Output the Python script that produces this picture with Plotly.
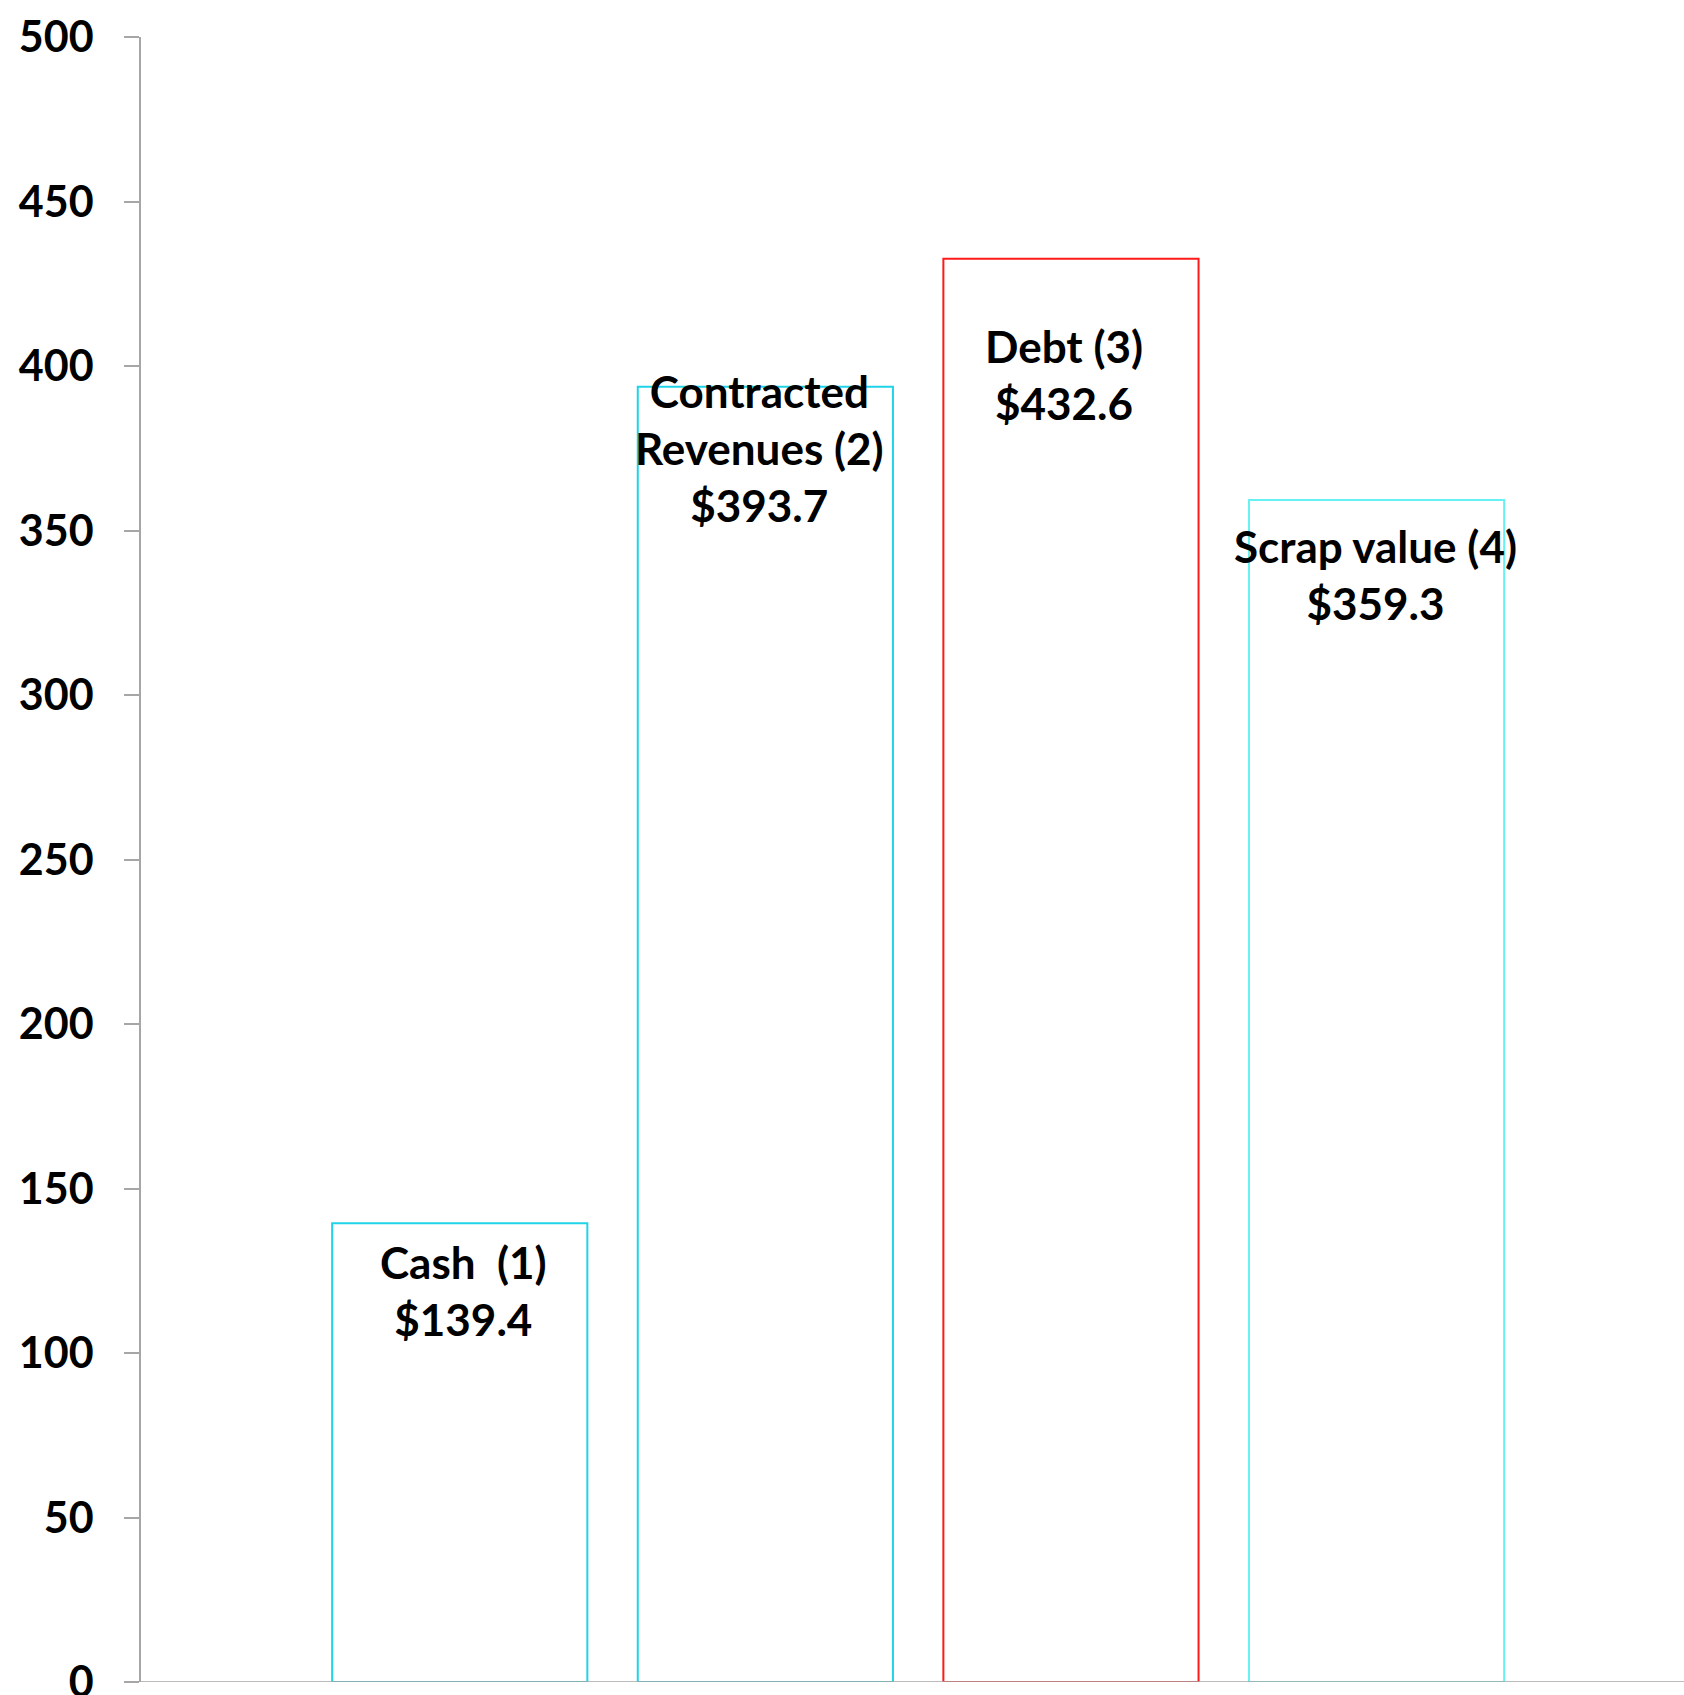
import plotly.graph_objects as go

categories = ["Cash", "Contracted Revenues", "Debt", "Scrap value"]
values = [139.4, 393.7, 432.6, 359.3]
label_names = ["Cash  (1)", "Contracted<br>Revenues (2)", "Debt (3)", "Scrap value (4)"]
outline_colors = ["#1FD3E8", "#1FD3E8", "#FF1A1A", "#66F2F2"]
y_ticks = [0, 50, 100, 150, 200, 250, 300, 350, 400, 450, 500]

# label placement styles (pixel offsets from bar top)
label_yshift = [-67, -61, -116, -75]
label_xshift = [4, -6, -7, -1]

FONT = "Lato"

fig = go.Figure()
fig.add_trace(go.Bar(
    x=categories,
    y=values,
    width=0.835,
    marker=dict(color="rgba(255,255,255,0)",
                line=dict(color=outline_colors, width=2)),
    hoverinfo="skip",
))

for cat, val, name, ys, xs in zip(categories, values, label_names, label_yshift, label_xshift):
    fig.add_annotation(
        x=cat, y=val,
        text=f"<b>{name}<br>${val:.1f}</b>",
        showarrow=False,
        xanchor="center", yanchor="middle",
        yshift=ys, xshift=xs,
        font=dict(family=FONT, size=44, color="black"),
        align="center",
    )

fig.update_layout(
    width=1684, height=1695,
    margin=dict(l=141, r=0, t=37, b=13, autoexpand=False),
    paper_bgcolor="white", plot_bgcolor="white",
    showlegend=False,
    bargap=0.165,
)
fig.update_xaxes(
    type="category",
    categoryorder="array", categoryarray=categories,
    range=[-1.043, 4.006],
    showticklabels=False, ticks="",
    showgrid=False, zeroline=False,
    showline=False, automargin=False,
)
fig.update_yaxes(
    range=[0, 500],
    tickvals=y_ticks,
    ticktext=[f"<b>{v}</b>" for v in y_ticks],
    tickfont=dict(family=FONT, size=43, color="black"),
    ticks="outside", ticklen=15, tickcolor="#A6A6A6", tickwidth=1.5,
    ticklabelstandoff=22,
    ticklabeloverflow="allow",
    automargin=False,
    showline=True, linecolor="#A6A6A6", linewidth=1.5,
    showgrid=False, zeroline=False,
)
fig.add_shape(type="line", xref="paper", yref="y",
              x0=-15/1543, x1=1, y0=0, y1=0,
              line=dict(color="#A6A6A6", width=1.5), layer="above")

fig.write_html("out.html")
